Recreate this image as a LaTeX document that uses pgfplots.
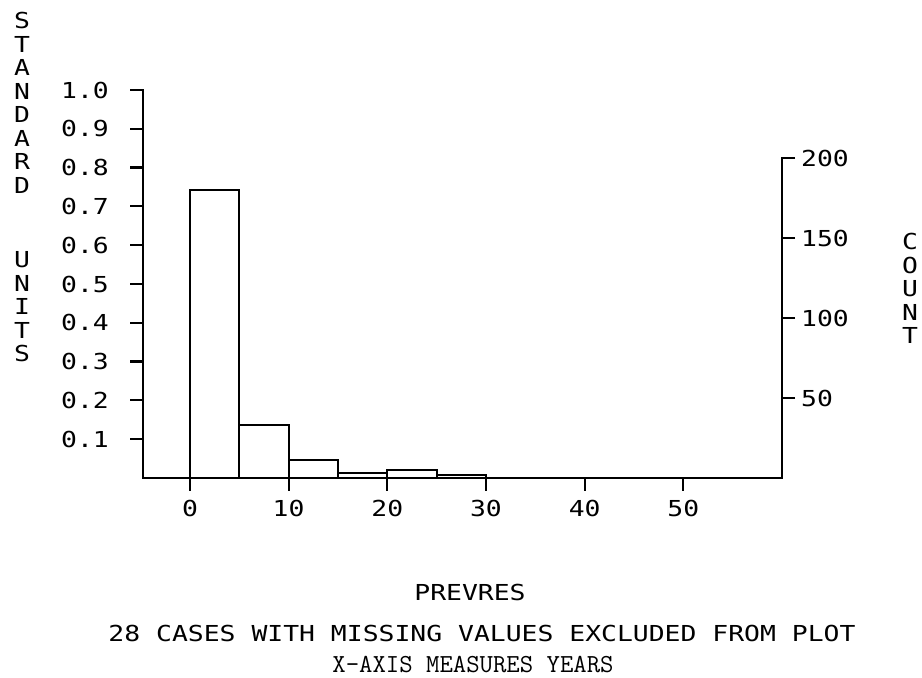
\documentclass[border=0pt]{standalone}
\usepackage{pgfplots}
\pgfplotsset{compat=1.18}
\usepackage{fontspec}
\newfontfamily\bm[FakeStretch=1.2]{DejaVu Sans Mono}
\newcommand{\bmfont}{\bm\fontsize{22}{23.5}\selectfont}
\begin{document}
\begin{tikzpicture}[x=1pt,y=1pt]
\useasboundingbox (0,0) rectangle (922,678);
\begin{axis}[
  at={(143pt,200pt)}, anchor=south west, scale only axis,
  width=639pt, height=388pt,
  xmin=-4.76, xmax=60, ymin=0, ymax=1,
  axis x line*=bottom, axis y line*=left,
  axis line style={-, line width=2.2pt, line cap=rect},
  xtick={0,10,20,30,40,50},
  ytick={0.1,0.2,0.3,0.4,0.5,0.6,0.7,0.8,0.9,1.0},
  tick align=outside, major tick length=13pt,
  tick style={line width=2.2pt, black},
  ticklabel style={font=\bmfont},
  xticklabel style={inner sep=2pt, yshift=-7pt},
  yticklabel style={inner sep=0pt, xshift=-21pt, /pgf/number format/.cd, fixed, fixed zerofill, precision=1},
  /pgf/number format/assume math mode=true,
  clip=false]
\end{axis}
\begin{axis}[
  at={(143pt,200pt)}, anchor=south west, scale only axis,
  width=639pt, height=320pt,
  xmin=-4.76, xmax=60, ymin=0, ymax=200,
  axis y line*=right, axis x line=none,
  axis line style={-, line width=2.2pt, line cap=rect},
  ytick={50,100,150,200},
  tick align=outside, major tick length=13pt,
  tick style={line width=2.2pt, black},
  ticklabel style={font=\bmfont},
  yticklabel style={inner sep=0pt, xshift=6pt},
  /pgf/number format/assume math mode=true,
  clip=false]
\addplot[ybar interval, fill=white, draw=black, line width=2.2pt, line join=miter]
  coordinates {(0,180) (5,33) (10,11) (15,3) (20,5) (25,2) (30,2)};
\end{axis}
\node[anchor=north, align=center, inner sep=0pt, font=\bmfont] at (22,666)
  {S\\T\\A\\N\\D\\A\\R\\D\\[51pt]U\\N\\I\\T\\S};
\node[anchor=north, align=center, inner sep=0pt, font=\bmfont] at (910,445)
  {C\\O\\U\\N\\T};
\node[font=\bmfont] at (470,86) {PREVRES};
\node[font=\bmfont] at (482,45) {28 CASES WITH MISSING VALUES EXCLUDED FROM PLOT};
\node[inner sep=0pt, font=\ttfamily\fontsize{26}{28}\selectfont] at (473,13) {X-AXIS MEASURES YEARS};
\end{tikzpicture}
\end{document}
